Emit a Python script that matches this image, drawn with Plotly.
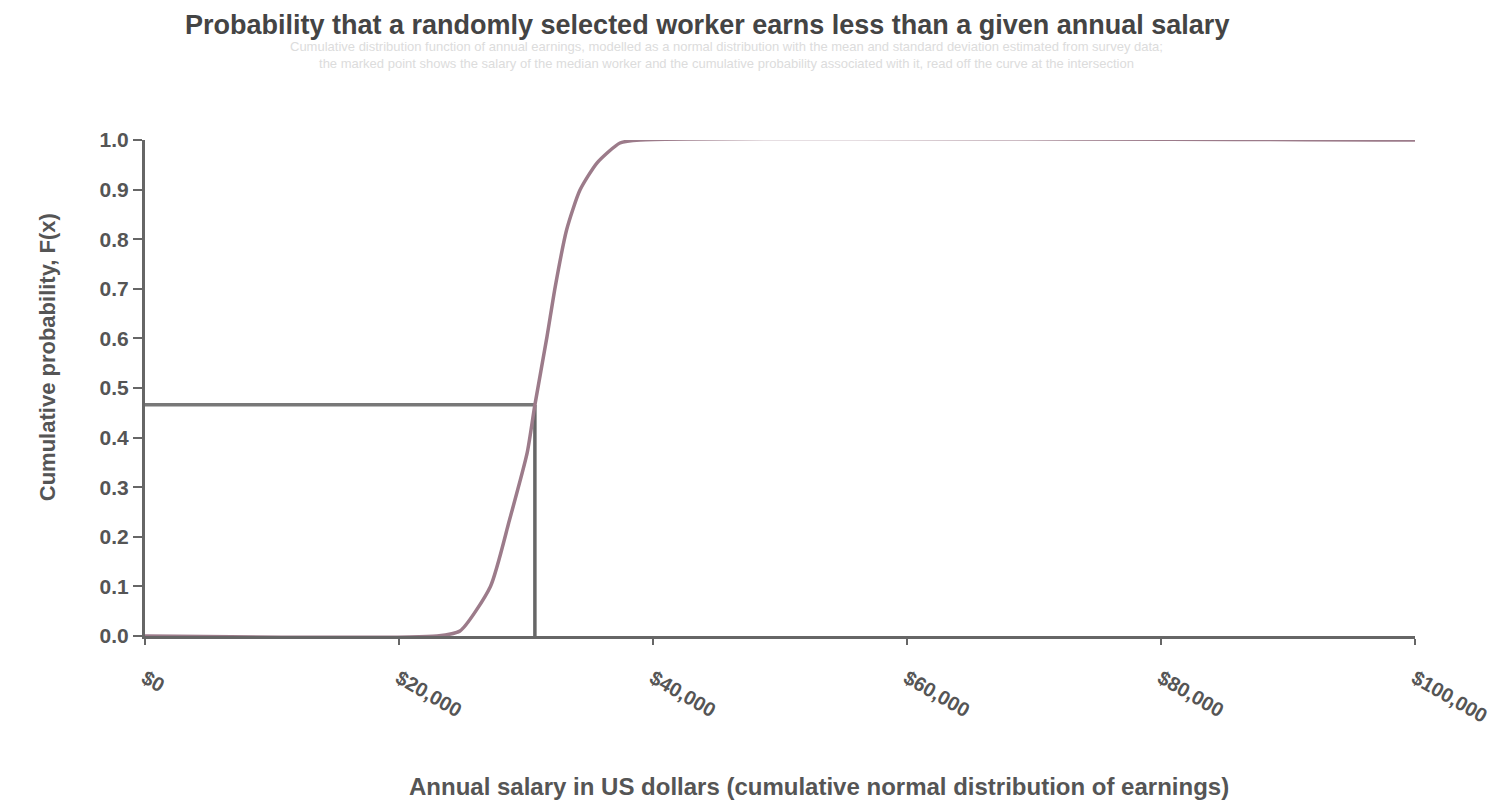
import plotly.graph_objects as go

# ---- data ----
salary = [0, 23000, 24800, 27200, 28700, 30100, 30700, 31650, 32300, 33200, 34250, 35600, 37400, 39000, 100000]
cum_prob = [0.0, 0.0, 0.01, 0.10, 0.234, 0.37, 0.466, 0.603, 0.704, 0.819, 0.899, 0.954, 0.994, 1.0, 1.0]

marker_salary = 30700
marker_prob = 0.466

x_tickvals = [0, 20000, 40000, 60000, 80000, 100000]
x_ticktext = ["$0", "$20,000", "$40,000", "$60,000", "$80,000", "$100,000"]
y_tickvals = [0, 0.1, 0.2, 0.3, 0.4, 0.5, 0.6, 0.7, 0.8, 0.9, 1.0]
y_ticktext = ["0.0", "0.1", "0.2", "0.3", "0.4", "0.5", "0.6", "0.7", "0.8", "0.9", "1.0"]

title_text = "Probability that a randomly selected worker earns less than a given annual salary"
subtitle_text = ("Cumulative distribution function of annual earnings, modelled as a normal distribution with the mean and standard deviation "
                 "estimated from survey data;<br>the marked point shows the salary of the median worker and the cumulative probability "
                 "associated with it, read off the curve at the intersection")
x_title = "Annual salary in US dollars (cumulative normal distribution of earnings)"
y_title = "Cumulative probability, F(x)"

fig = go.Figure()

# reference lines
fig.add_trace(go.Scatter(x=[0, marker_salary], y=[marker_prob, marker_prob], mode="lines",
                         line=dict(color="#787878", width=3.5), hoverinfo="skip", showlegend=False))
fig.add_trace(go.Scatter(x=[marker_salary, marker_salary], y=[0, marker_prob], mode="lines",
                         line=dict(color="#666666", width=3.5), hoverinfo="skip", showlegend=False))

# CDF curve
fig.add_trace(go.Scatter(x=salary, y=cum_prob, mode="lines",
                         line=dict(color="#9c7b8a", width=3.5, shape="spline", smoothing=0.6),
                         showlegend=False))

fig.update_layout(
    width=1497, height=800,
    paper_bgcolor="white", plot_bgcolor="white",
    margin=dict(l=137, r=90, t=132, b=172),
    font=dict(family="Liberation Sans, Arial, sans-serif", color="#555"),
    xaxis=dict(range=[0, 100000], tickvals=x_tickvals, ticktext=x_ticktext, tickangle=30,
               showgrid=False, zeroline=False, showline=True, linecolor="#666", linewidth=3,
               ticks="outside", ticklen=6, tickcolor="#666", tickwidth=2,
               ticklabelstandoff=14,
               tickfont=dict(size=20, color="#555", weight="bold")),
    yaxis=dict(range=[0, 1], tickvals=y_tickvals, ticktext=y_ticktext,
               showgrid=False, zeroline=False, showline=True, linecolor="#666", linewidth=3,
               ticks="outside", ticklen=9, tickcolor="#666", tickwidth=2,
               tickfont=dict(size=21, color="#555", weight="bold")),
    annotations=[
        dict(text="<b>" + title_text + "</b>", xref="paper", yref="paper", x=0.4425, y=1.232,
             xanchor="center", yanchor="middle", showarrow=False, font=dict(size=27, color="#444")),
        dict(text=subtitle_text, xref="paper", yref="paper", x=0.4575, y=1.172,
             xanchor="center", yanchor="middle", showarrow=False, font=dict(size=13, color="#dcdcdc")),
        dict(text="<b>" + x_title + "</b>", xref="paper", yref="paper", x=0.531, y=-0.303,
             xanchor="center", yanchor="middle", showarrow=False, font=dict(size=24, color="#555")),
        dict(text="<b>" + y_title + "</b>", xref="paper", yref="paper", x=-0.077, y=0.5625,
             xanchor="center", yanchor="middle", textangle=-90, showarrow=False,
             font=dict(size=22, color="#555")),
    ],
)

fig.write_html("out.html")
